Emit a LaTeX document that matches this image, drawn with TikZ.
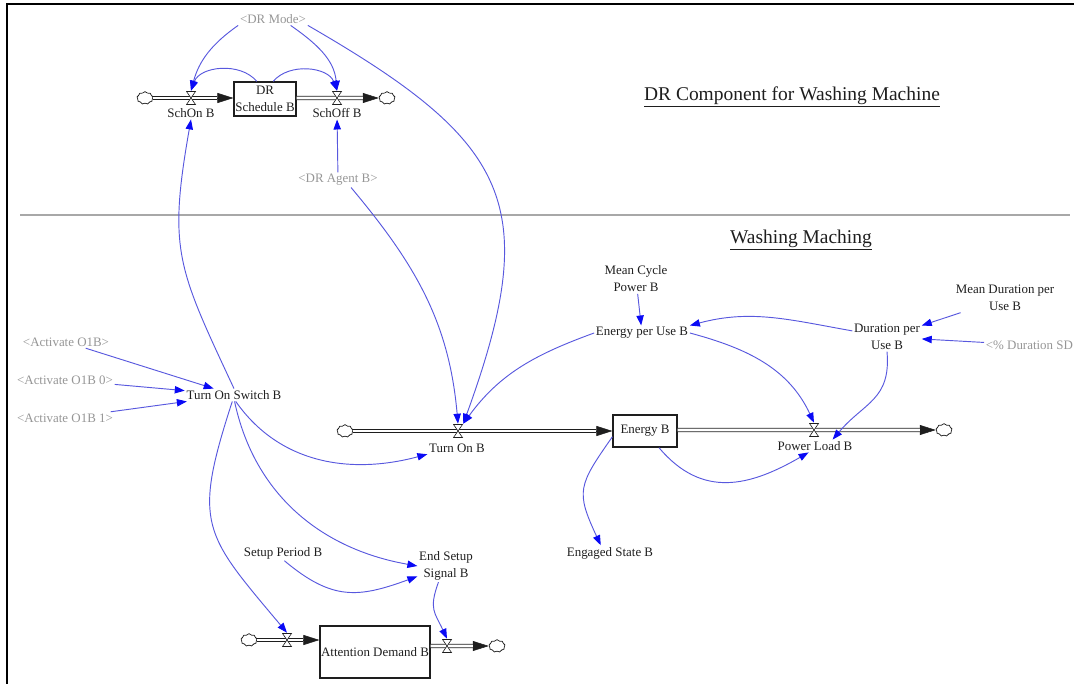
\documentclass[tikz,border=0pt]{standalone}
\usepackage{fontspec}
\setmainfont{Liberation Serif}
\usetikzlibrary{arrows.meta,shapes.symbols}

\definecolor{linkblue}{RGB}{88,88,222}
\definecolor{tipblue}{RGB}{10,10,245}
\definecolor{shadowvar}{RGB}{150,150,150}
\definecolor{rulegray}{RGB}{168,168,168}
\definecolor{ink}{RGB}{30,30,30}

% a material pipe: thin line carrying the arrow tip, covered by the double pipe body
\newcommand\flowpipe[2]{%
  \draw[pipetip] #1 -- #2;
  \draw[pipebody] #1 -- #2;}

\begin{document}
\begin{tikzpicture}[x=0.75pt,y=-0.75pt,
  every node/.style={font=\fontsize{9.7}{12.7}\selectfont, text=ink, inner sep=1.2pt, align=center},
  ghost/.style={text=shadowvar},
  heading/.style={font=\fontsize{14.6}{17}\selectfont},
  stock/.style={draw=ink, line width=0.9pt, fill=white, inner sep=0pt},
  valve/.style={minimum width=7.5pt, minimum height=10.5pt, inner sep=0pt,
    path picture={\draw[draw=ink, line width=0.45pt, fill=white]
      ([shift={(0.4pt,-0.4pt)}]path picture bounding box.north west) --
      ([shift={(-0.4pt,-0.4pt)}]path picture bounding box.north east) --
      ([shift={(0.4pt,0.4pt)}]path picture bounding box.south west) --
      ([shift={(-0.4pt,0.4pt)}]path picture bounding box.south east) -- cycle;}},
  source/.style={cloud, cloud puffs=9, cloud puff arc=120, aspect=1.3, draw=ink, fill=white,
    line width=0.55pt, minimum width=12pt, minimum height=9.5pt, inner sep=0pt},
  link/.style={draw=linkblue, line width=0.7pt, -{Triangle[length=7.5pt,width=5.5pt,color=tipblue]}},
  pipetip/.style={draw=ink, line width=0.4pt, -{Triangle[length=12pt,width=7.5pt]}},
  pipebody/.style={draw=ink, line width=0.6pt, double=white, double distance=2pt, shorten >=12pt},
  frame/.style={line width=2.2pt, draw=black},
  rule/.style={line width=1.5pt, draw=rulegray}]

\useasboundingbox (0,0) rectangle (1074,684);

% sheet border and section divider
\draw[frame] (7,684) -- (7,4) -- (1074,4);
\draw[rule] (20,215) -- (1070,215);

% headings
\node[heading] (title) at (792,97) {\underline{DR Component for Washing Machine}};
\node[heading] (section) at (801,240) {\underline{Washing Maching}};

% ---------- DR schedule chain ----------
\node[stock, minimum width=46.5pt, minimum height=25.5pt] (sched) at (265,99) {DR\\Schedule B};
\node[source] (cA) at (145,98) {};
\node[source] (cB) at (387,98) {};
\flowpipe{(cA.east)}{(cA.east -| sched.west)}
\flowpipe{(sched.east |- cB)}{(cB.west)}
\node[valve] (vSchOn) at (191,98) {};
\node[valve] (vSchOff) at (337,98) {};
\node (SchOn) at (191,113) {SchOn B};
\node (SchOff) at (337,113) {SchOff B};
\node[ghost] (DRMode) at (273,19) {<DR Mode>};
\node[ghost] (DRAgent) at (338,180) {<DR Agent B>};

% ---------- energy chain ----------
\node[stock, minimum width=48pt, minimum height=24pt] (energy) at (645,431) {Energy B};
\node[source] (cC) at (345,431) {};
\node[source] (cD) at (944,430) {};
\flowpipe{(cC.east)}{(cC.east -| energy.west)}
\flowpipe{(energy.east |- cD)}{(cD.west)}
\node[valve] (vTurnOn) at (458,431) {};
\node[valve] (vPower) at (814,430) {};
\node (TurnOn) at (457,448) {Turn On B};
\node (Power) at (815,446) {Power Load B};

% ---------- attention chain ----------
\node[stock, minimum width=82.5pt, minimum height=39pt] (att) at (375,652) {Attention Demand B};
\node[source] (cE) at (249,640) {};
\node[source] (cF) at (497,646) {};
\flowpipe{(cE.east)}{(cE.east -| att.west)}
\flowpipe{(att.east |- cF)}{(cF.west)}
\node[valve] (vIn) at (287,640) {};
\node[valve] (vOut) at (447,646) {};

% ---------- auxiliaries ----------
\node (TOS) at (234,395) {Turn On Switch B};
\node[ghost] (ActA) at (66,342) {<Activate O1B>};
\node[ghost] (ActB) at (65,380) {<Activate O1B 0>};
\node[ghost] (ActC) at (65,418) {<Activate O1B 1>};
\node (EPU) at (642,333) {Energy per Use B};
\node (MCP) at (636,279) {Mean Cycle\\Power B};
\node (DPU) at (887,337) {Duration per\\Use B};
\node (MDP) at (1005,298) {Mean Duration per\\Use B};
\node[ghost, anchor=west] (DSD) at (984,345) {<\% Duration SD};
\node (ESB) at (610,553) {Engaged State B};
\node (SPB) at (283,553) {Setup Period B};
\node (ESS) at (446,566) {End Setup\\Signal B};

% ---------- causal links ----------
\draw[link] (DRMode.south west) to[out=215,in=75] (vSchOn.north);
\draw[link] (DRMode.-20) to[out=-35,in=95] (vSchOff.north);
\draw[link] (DRMode.south east) to[out=-30,in=70,looseness=1.4] (vTurnOn.north east);
\draw[link] (sched.115) to[out=130,in=70] (vSchOn.north);
\draw[link] (sched.65) to[out=50,in=110] (vSchOff.north);
\draw[link] (DRAgent) -- (SchOff);
\draw[link] (DRAgent.-30) to[out=-50,in=95] (vTurnOn.north);
\draw[link] (TOS.north) to[out=115,in=-100,looseness=1.25] (SchOn.south);

\draw[link] (ActA) -- (TOS);
\draw[link] (ActB) -- (TOS);
\draw[link] (ActC) -- (TOS);
\draw[link] (TOS.-75) to[out=-55,in=195] (TurnOn.south west);
\draw[link] (TOS.-85) to[out=-78,in=170] (ESS.west);
\draw[link] (TOS.-105) to[out=-108,in=130,looseness=1.4] (vIn.north);
\draw[link] (SPB.-80) to[out=-40,in=200,looseness=1.2] (ESS.200);
\draw[link] (ESS.-115) to[out=-110,in=115,looseness=1.3] (vOut.north);

\draw[link] (MCP) -- (EPU);
\draw[link] (MDP) -- (DPU);
\draw[link] (DSD) -- (DPU);
\draw[link] (DPU.170) to[out=170,in=15] (EPU.north east);
\draw[link] (EPU.east) to[out=-15,in=115] (vPower.north);
\draw[link] (DPU.south) to[out=-85,in=50,looseness=1.2] (Power.20);
\draw[link] (EPU.west) to[out=200,in=54] (vTurnOn.north east);
\draw[link] (energy.-50) to[out=-50,in=-150,looseness=1.15] (Power.-135);
\draw[link] (energy.190) to[out=235,in=115,looseness=1.4] (ESB.140);
\end{tikzpicture}
\end{document}
